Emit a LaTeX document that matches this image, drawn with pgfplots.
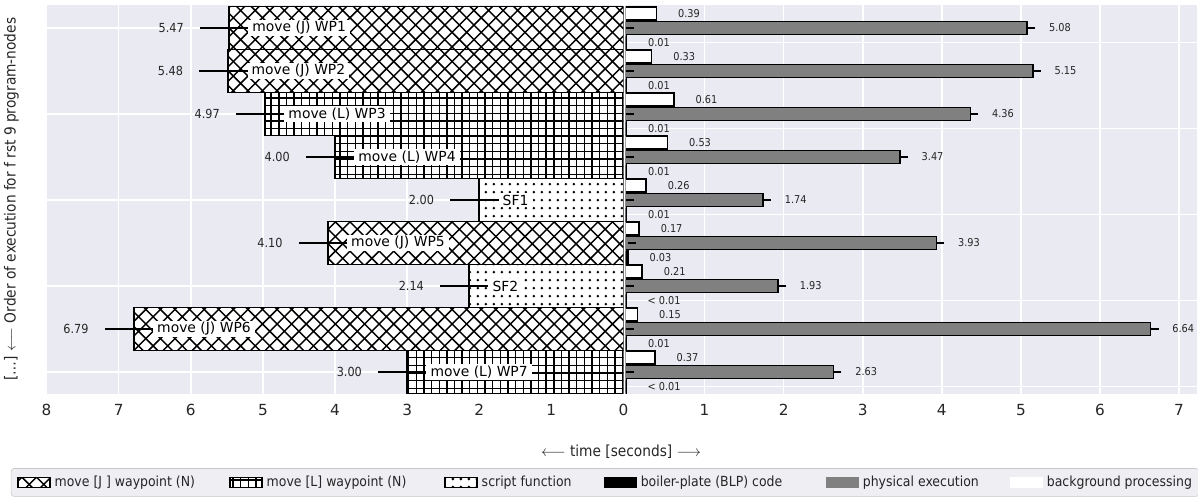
\documentclass[border=0pt]{standalone}
\usepackage{fontspec}
\setmainfont{DejaVu Sans}
\newfontfamily\cond{DejaVu Sans Condensed}
\usepackage{pgfplots}
\pgfplotsset{compat=1.18}
\usepackage{pgfplotstable}
\usetikzlibrary{patterns}

\definecolor{bgc}{RGB}{234,234,242}
\definecolor{lgfill}{RGB}{238,238,243}
\definecolor{lgdraw}{RGB}{200,200,200}
\definecolor{physgray}{RGB}{128,128,128}
\definecolor{txt}{RGB}{38,38,38}

\pgfdeclarepatternformonly{xhatch}{\pgfqpoint{-1pt}{-1pt}}{\pgfqpoint{11.5pt}{11.5pt}}{\pgfqpoint{10.5pt}{10.5pt}}{%
  \pgfsetlinewidth{1.05pt}%
  \pgfpathmoveto{\pgfqpoint{0pt}{0pt}}\pgfpathlineto{\pgfqpoint{10.5pt}{10.5pt}}%
  \pgfpathmoveto{\pgfqpoint{0pt}{10.5pt}}\pgfpathlineto{\pgfqpoint{10.5pt}{0pt}}%
  \pgfusepath{stroke}}
\pgfdeclarepatternformonly{gridhatch}{\pgfqpoint{-1pt}{-1pt}}{\pgfqpoint{6.5pt}{6.5pt}}{\pgfqpoint{5.5pt}{5.5pt}}{%
  \pgfsetlinewidth{1.0pt}%
  \pgfpathmoveto{\pgfqpoint{0pt}{2.75pt}}\pgfpathlineto{\pgfqpoint{5.5pt}{2.75pt}}%
  \pgfpathmoveto{\pgfqpoint{2.75pt}{0pt}}\pgfpathlineto{\pgfqpoint{2.75pt}{5.5pt}}%
  \pgfusepath{stroke}}
\pgfdeclarepatternformonly{dothatch}{\pgfqpoint{0pt}{0pt}}{\pgfqpoint{6pt}{6pt}}{\pgfqpoint{6pt}{6pt}}{%
  \pgfpathcircle{\pgfqpoint{3pt}{3pt}}{1.15pt}\pgfusepath{fill}}

\pgfplotsset{
  mylegend/.style={legend image code/.code={\draw[sharp corners,##1] (0pt,-3.6pt) rectangle (23pt,3.6pt);}},
  filllegend/.style={legend image code/.code={\fill[sharp corners,#1] (0pt,-3.6pt) rectangle (23pt,3.6pt);}},
  common/.style={
    scale only axis, height=279.72pt,
    y dir=reverse, ymin=-0.535, ymax=8.5, yticklabels={},
    axis background/.style={fill=bgc},
    axis line style={draw=none}, major tick length=0pt,
    grid=major, major grid style={white, line width=1.1pt},
    tick label style={font=\fontsize{11}{13}\selectfont, text=txt},
    /pgf/number format/assume math mode=true,
    xticklabel style={yshift=-4pt},
  },
  lbar/.style={xbar, bar width=1, bar shift=0pt, fill=white, draw=black, line width=1.1pt, mylegend,
    error bars/x dir=both, error bars/x fixed=0.40, error bars/error mark=none,
    error bars/error bar style={line width=1.4pt, black}},
  rbar/.style={xbar, bar width=0.3, bar shift=#1, draw=black, line width=1.1pt, mylegend,
    error bars/x dir=plus, error bars/x fixed=0.10, error bars/error mark=none,
    error bars/error bar style={line width=1.4pt, black}},
  vallab/.style={forget plot, draw=none, mark=none, nodes near coords, point meta=explicit symbolic,
    nodes near coords style={anchor=east, xshift=-32.4pt, inner sep=0pt, text=txt, font=\cond\fontsize{9}{11}\selectfont}},
  namelab/.style={forget plot, draw=none, mark=none, nodes near coords, point meta=explicit symbolic,
    nodes near coords style={anchor=west, xshift=13.7pt, fill=white, inner xsep=3pt, inner ysep=1pt, text=black, font=\fontsize{10}{12}\selectfont}},
  rlab/.style={forget plot, draw=none, mark=none, nodes near coords, point meta=explicit symbolic,
    nodes near coords style={anchor=west, xshift=15.5pt, inner sep=0pt, text=txt, font=\cond\fontsize{7.8}{9}\selectfont}},
}

% left: total time per program node (J = move joint, L = move linear, S = script function)
\pgfplotstableread[col sep=comma]{
y,val,lab,name
0,5.47,5.47,move (J) WP1
1,5.48,5.48,move (J) WP2
5,4.10,4.10,move (J) WP5
7,6.79,6.79,move (J) WP6
}\tJ
\pgfplotstableread[col sep=comma]{
y,val,lab,name
2,4.97,4.97,move (L) WP3
3,4.00,4.00,move (L) WP4
8,3.00,3.00,move (L) WP7
}\tL
\pgfplotstableread[col sep=comma]{
y,val,lab,name
4,2.00,2.00,SF1
6,2.14,2.14,SF2
}\tS
% right: background processing, physical execution, boiler-plate code
\pgfplotstableread[col sep=comma]{
y,bg,bgl,ph,phl,blp,blpl
0,0.39,0.39,5.08,5.08,0.01,0.01
1,0.33,0.33,5.15,5.15,0.01,0.01
2,0.61,0.61,4.36,4.36,0.01,0.01
3,0.53,0.53,3.47,3.47,0.01,0.01
4,0.26,0.26,1.74,1.74,0.01,0.01
5,0.17,0.17,3.93,3.93,0.03,0.03
6,0.21,0.21,1.93,1.93,0.004,< 0.01
7,0.15,0.15,6.64,6.64,0.01,0.01
8,0.37,0.37,2.63,2.63,0.004,< 0.01
}\tR

\begin{document}
\begin{tikzpicture}
\useasboundingbox (0,0) rectangle (862.56pt,359.28pt);
\begin{axis}[common, mylegend,
  at={(33.48pt,75.96pt)}, anchor=south west, width=415.44pt,
  x dir=reverse, xmin=0, xmax=8, xtick={0,...,8},
  ytick={0,2,4,6,8},
  ylabel={[…] $\longleftarrow$ Order of execution for f rst 9 program-nodes},
  ylabel style={font=\cond\fontsize{11}{13}\selectfont, text=txt, at={(axis description cs:-0.0607,0.5)}, anchor=center},
  xlabel={$\longleftarrow$ time [seconds] $\longrightarrow$},
  xlabel style={font=\cond\fontsize{11}{13}\selectfont, text=txt, at={(axis description cs:0.996,-0.1506)}, anchor=center},
  legend columns=6,
  legend style={at={(axis description cs:0.968,-0.229)}, anchor=center,
    draw=lgdraw, fill=lgfill, rounded corners=2pt, font=\cond\fontsize{10}{12}\selectfont, text=txt,
    nodes={inner sep=0pt},
    /tikz/every odd column/.append style={column sep=2.9pt},
    /tikz/every even column/.append style={column sep=22pt},
    inner xsep=4.3pt, inner ysep=5.5pt},
]
\addplot[lbar, postaction={pattern=xhatch}] table[x=val,y=y]{\tJ};
\addlegendentry{\makebox[103.7pt][l]{move [J ] waypoint (N)}}
\addplot[lbar, postaction={pattern=gridhatch}] table[x=val,y=y]{\tL};
\addlegendentry{\makebox[105.8pt][l]{move [L] waypoint (N)}}
\addplot[lbar, postaction={pattern=dothatch}] table[x=val,y=y]{\tS};
\addlegendentry{\makebox[66.2pt][l]{script function}}
\addlegendimage{filllegend=black}
\addlegendentry{\makebox[111.6pt][l]{boiler-plate (BLP) code}}
\addlegendimage{filllegend=physgray}
\addlegendentry{\makebox[84.2pt][l]{physical execution}}
\addlegendimage{filllegend=white}
\addlegendentry{\makebox[105.1pt][l]{background processing}}

\addplot[vallab] table[x=val,y=y,meta=lab]{\tJ};
\addplot[vallab] table[x=val,y=y,meta=lab]{\tL};
\addplot[vallab] table[x=val,y=y,meta=lab]{\tS};
\addplot[namelab] table[x=val,y=y,meta=name]{\tJ};
\addplot[namelab] table[x=val,y=y,meta=name]{\tL};
\addplot[namelab] table[x=val,y=y,meta=name]{\tS};
\end{axis}

\begin{axis}[common,
  at={(450.36pt,75.96pt)}, anchor=south west, width=411.12pt,
  xmin=0, xmax=7.22, xtick={1,...,7},
  ytick={0.34,2.34,4.34,6.34,8.34},
]
\addplot[rbar=-0.34, fill=white] table[x=bg,y=y]{\tR};
\addplot[rbar=0, fill=physgray] table[x=ph,y=y]{\tR};
\addplot[rbar=0.34, fill=black] table[x=blp,y=y]{\tR};
\addplot[rlab] table[x=bg, y expr=\thisrow{y}-0.34, meta=bgl]{\tR};
\addplot[rlab] table[x=ph, y=y, meta=phl]{\tR};
\addplot[rlab] table[x=blp, y expr=\thisrow{y}+0.34, meta=blpl]{\tR};
\end{axis}
\end{tikzpicture}
\end{document}
